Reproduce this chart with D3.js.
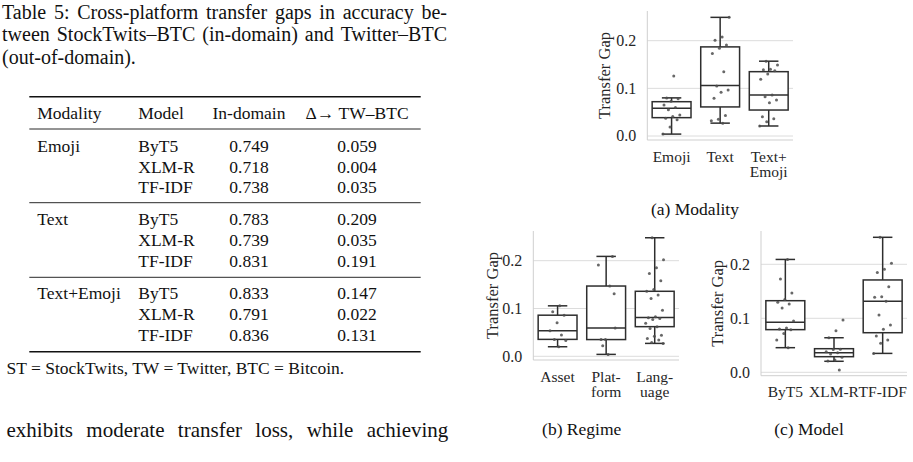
<!DOCTYPE html>
<html><head><meta charset="utf-8">
<script src="https://cdn.jsdelivr.net/npm/d3@7"></script>
<style>body{margin:0;background:#fff} svg{display:block}</style>
</head><body><svg id="c" width="913" height="462"></svg>
<script>
// ---------- data ----------
const captionLines = [
  "Table 5: Cross-platform transfer gaps in accuracy be-",
  "tween StockTwits–BTC (in-domain) and Twitter–BTC",
  "(out-of-domain)."
];
const tableHeader = ["Modality", "Model", "In-domain", "Δ→ TW–BTC"];
const modalities = ["Emoji", "Text", "Text+Emoji"];
const models = ["ByT5", "XLM-R", "TF-IDF"];
const inDomain = [[0.749, 0.718, 0.738], [0.783, 0.739, 0.831], [0.833, 0.791, 0.836]];
const gapTW = [[0.059, 0.004, 0.035], [0.209, 0.035, 0.191], [0.147, 0.022, 0.131]];
const footnote = "ST = StockTwits, TW = Twitter, BTC = Bitcoin.";
const bodyText = "exhibits moderate transfer loss, while achieving";

const yTicks = [0.0, 0.1, 0.2];
const yLabel = "Transfer Gap";

// (a) Modality
const modalityLabels = [["Emoji"], ["Text"], ["Text+", "Emoji"]];
// box stats: [whisker low, q1, median, q3, whisker high]
const modalityBoxes = [
  [0.004, 0.0385, 0.058, 0.072, 0.080],
  [0.027, 0.061, 0.106, 0.187, 0.249],
  [0.021, 0.0545, 0.086, 0.135, 0.157]
];
const modalityPoints = [
  [0.126, 0.080, 0.078, 0.073, 0.065, 0.060, 0.055, 0.044, 0.041, 0.037, 0.034, 0.019, 0.004],
  [0.249, 0.208, 0.201, 0.191, 0.184, 0.173, 0.135, 0.105, 0.0965, 0.092, 0.079, 0.043, 0.035, 0.032, 0.027],
  [0.157, 0.149, 0.140, 0.139, 0.137, 0.130, 0.119, 0.086, 0.0825, 0.0755, 0.070, 0.0405, 0.036, 0.030, 0.021]
];

// (b) Regime
const regimeLabels = [["Asset"], ["Plat-", "form"], ["Lang-", "uage"]];
const regimeBoxes = [
  [0.020, 0.0354, 0.0535, 0.086, 0.1056],
  [0.004, 0.035, 0.059, 0.147, 0.209],
  [0.027, 0.062, 0.081, 0.136, 0.248]
];
const regimePoints = [
  [0.106, 0.093, 0.086, 0.070, 0.0535, 0.0445, 0.0354, 0.033, 0.020],
  [0.059, 0.004, 0.035, 0.209, 0.035, 0.191, 0.147, 0.022, 0.131],
  [0.248, 0.202, 0.185, 0.173, 0.158, 0.140, 0.136, 0.128, 0.121, 0.0965, 0.083, 0.0805,
   0.079, 0.077, 0.069, 0.062, 0.058, 0.044, 0.042, 0.0375, 0.034, 0.029, 0.027]
];

// (c) Model
const modelLabels = [["ByT5"], ["XLM-R"], ["TF-IDF"]];
const modelBoxes = [
  [0.0456, 0.079, 0.0926, 0.1326, 0.209],
  [0.0204, 0.0289, 0.0363, 0.0437, 0.064],
  [0.035, 0.0733, 0.1315, 0.171, 0.250]
];
const modelPoints = [
  [0.209, 0.173, 0.147, 0.135, 0.1296, 0.1265, 0.119, 0.095, 0.082, 0.080, 0.079, 0.072, 0.060, 0.0456],
  [0.097, 0.077, 0.064, 0.0426, 0.042, 0.038, 0.036, 0.034, 0.0277, 0.0228, 0.021, 0.0043],
  [0.250, 0.202, 0.191, 0.185, 0.1586, 0.140, 0.139, 0.1315, 0.106, 0.0876, 0.0796, 0.067, 0.060, 0.0537, 0.035]
];

// ---------- drawing ----------
const serif = "'Liberation Serif','Times New Roman',serif";
const ink = "#111";
const svg = d3.select("#c");
svg.append("rect").attr("width", 913).attr("height", 462).attr("fill", "#fff");

function justify(words, x0, x1, y, size) {
  const g = svg.append("g").attr("font-family", serif).attr("font-size", size).attr("fill", ink);
  const nodes = words.map(w => g.append("text").attr("y", y).text(w));
  const widths = nodes.map(n => n.node().getComputedTextLength());
  const total = d3.sum(widths);
  const gap = (x1 - x0 - total) / (words.length - 1);
  let x = x0;
  nodes.forEach((n, i) => { n.attr("x", x); x += widths[i] + gap; });
}

// caption
justify(captionLines[0].split(" "), 2, 447, 18.5, 20);
justify(captionLines[1].split(" "), 2, 447, 41, 20);
svg.append("text").attr("x", 2).attr("y", 63.5).attr("font-family", serif)
  .attr("font-size", 20).attr("fill", ink).text(captionLines[2]);

// table
const tL = 29.3, tR = 420.7;
const rule = (y, w) => svg.append("line").attr("x1", tL).attr("x2", tR).attr("y1", y).attr("y2", y)
  .attr("stroke", ink).attr("stroke-width", w);
rule(96.7, 1.6); rule(129, 0.9); rule(202.7, 0.9); rule(277.3, 0.9); rule(351.7, 1.6);
const colX = [37.3, 138.3, 249, 357];
const anchors = ["start", "start", "middle", "middle"];
const tg = svg.append("g").attr("font-family", serif).attr("font-size", 17.5).attr("fill", ink);
tableHeader.forEach((h, i) => tg.append("text").attr("x", colX[i]).attr("y", 118.5)
  .attr("text-anchor", anchors[i]).text(h));
const groupBase = [151.7, 225, 299];
modalities.forEach((m, gi) => {
  tg.append("text").attr("x", colX[0]).attr("y", groupBase[gi]).text(m);
  models.forEach((md, ri) => {
    const y = groupBase[gi] + ri * 20.8;
    tg.append("text").attr("x", colX[1]).attr("y", y).text(md);
    tg.append("text").attr("x", colX[2]).attr("y", y).attr("text-anchor", "middle").text(d3.format(".3f")(inDomain[gi][ri]));
    tg.append("text").attr("x", colX[3]).attr("y", y).attr("text-anchor", "middle").text(d3.format(".3f")(gapTW[gi][ri]));
  });
});
svg.append("text").attr("x", 6.5).attr("y", 373.5).attr("font-family", serif)
  .attr("font-size", 17.5).attr("fill", ink).text(footnote);
justify(bodyText.split(" "), 6.5, 448.3, 437, 21);

// panels
const panels = [
  {labels: modalityLabels, boxes: modalityBoxes, points: modalityPoints,
   x0: 647.3, x1: 793, y0: 136, y2: 40.7, top: 11, bottom: 140, ylx: 604,
   cap: "(a) Modality", capX: 695, capY: 215},
  {labels: regimeLabels, boxes: regimeBoxes, points: regimePoints,
   x0: 533.3, x1: 679, y0: 356.3, y2: 260.7, top: 231, bottom: 360, ylx: 492.5,
   cap: "(b) Regime", capX: 581.7, capY: 435},
  {labels: modelLabels, boxes: modelBoxes, points: modelPoints,
   x0: 761, x1: 907, y0: 372.3, y2: 264.3, top: 231, bottom: 375.7, ylx: 717.5,
   cap: "(c) Model", capX: 809, capY: 435}
];

const fs = 15.5;
panels.forEach(p => {
  const g = svg.append("g");
  const x = d3.scalePoint().domain(d3.range(p.labels.length)).range([p.x0, p.x1]).padding(0.5);
  const y = d3.scaleLinear().domain([0, 0.2]).range([p.y0, p.y2]);
  const step = x.step(), bw = step * 0.8;

  // grid
  g.selectAll(".grid").data(yTicks).join("line")
    .attr("x1", p.x0).attr("x2", p.x1).attr("y1", d => y(d)).attr("y2", d => y(d))
    .attr("stroke", "#dcdcdc").attr("stroke-width", 1);
  // spines
  g.append("line").attr("x1", p.x0).attr("x2", p.x0).attr("y1", p.top).attr("y2", p.bottom)
    .attr("stroke", "#cfcfcf").attr("stroke-width", 1);
  g.append("line").attr("x1", p.x0).attr("x2", p.x1).attr("y1", p.bottom).attr("y2", p.bottom)
    .attr("stroke", "#cfcfcf").attr("stroke-width", 1);
  // y tick labels
  g.selectAll(".yt").data(yTicks).join("text")
    .attr("x", p.x0 - 11).attr("y", d => y(d)).attr("dy", "0.33em")
    .attr("text-anchor", "end").attr("font-family", serif).attr("font-size", 16)
    .attr("fill", "#262626").text(d => d3.format(".1f")(d));
  // y label
  g.append("text").attr("transform", `translate(${p.ylx},${(p.top + p.bottom) / 2}) rotate(-90)`)
    .attr("dy", "0.35em").attr("text-anchor", "middle").attr("font-family", serif)
    .attr("font-size", 16.5).attr("fill", "#262626").text(yLabel);
  // x tick labels
  p.labels.forEach((lines, i) => {
    lines.forEach((ln, k) => g.append("text").attr("x", x(i)).attr("y", p.bottom + 21.7 + k * 15.5)
      .attr("text-anchor", "middle").attr("font-family", serif).attr("font-size", fs)
      .attr("fill", "#262626").text(ln));
  });
  // boxes
  const stroke = "#2e2e2e";
  p.boxes.forEach((b, i) => {
    const cx = x(i);
    const [lo, q1, med, q3, hi] = b;
    g.append("line").attr("x1", cx).attr("x2", cx).attr("y1", y(hi)).attr("y2", y(q3))
      .attr("stroke", stroke).attr("stroke-width", 1.5);
    g.append("line").attr("x1", cx).attr("x2", cx).attr("y1", y(q1)).attr("y2", y(lo))
      .attr("stroke", stroke).attr("stroke-width", 1.5);
    [lo, hi].forEach(v => g.append("line").attr("x1", cx - bw / 4).attr("x2", cx + bw / 4)
      .attr("y1", y(v)).attr("y2", y(v)).attr("stroke", stroke).attr("stroke-width", 1.5));
    g.append("rect").attr("x", cx - bw / 2).attr("width", bw).attr("y", y(q3)).attr("height", y(q1) - y(q3))
      .attr("fill", "#fff").attr("stroke", stroke).attr("stroke-width", 1.5);
    g.append("line").attr("x1", cx - bw / 2).attr("x2", cx + bw / 2).attr("y1", y(med)).attr("y2", y(med))
      .attr("stroke", stroke).attr("stroke-width", 1.5);
  });
  // strip points (deterministic jitter)
  p.points.forEach((pts, i) => {
    pts.forEach((v, k) => {
      const j = (((k + 1) * 0.6180339887 + i * 0.37) % 1) - 0.5;
      g.append("circle").attr("cx", x(i) + j * 2 * 0.19 * step).attr("cy", y(v)).attr("r", 1.5)
        .attr("fill", "#4d4d4d").attr("fill-opacity", 0.85);
    });
  });
  // caption
  svg.append("text").attr("x", p.capX).attr("y", p.capY).attr("text-anchor", "middle")
    .attr("font-family", serif).attr("font-size", 17.5).attr("fill", ink).text(p.cap);
});
</script></body></html>
